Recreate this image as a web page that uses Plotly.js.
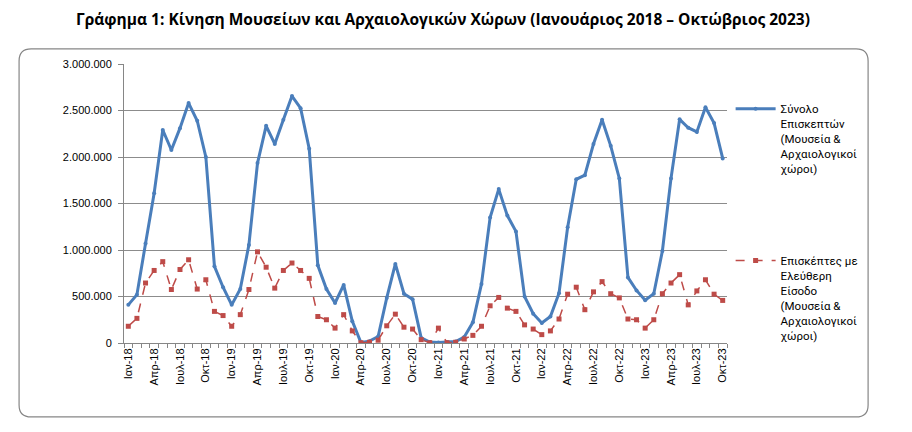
<!DOCTYPE html>
<html>
<head>
<meta charset="utf-8">
<script src="https://cdn.plot.ly/plotly-3.0.1.min.js"></script>
<style>
  body { margin: 0; background: #fff; }
  #chart { width: 912px; height: 432px; }
</style>
</head>
<body>
<div id="chart"></div>
<script>
var monthNames = ['Ιαν', 'Φεβ', 'Μαρ', 'Απρ', 'Μαϊ', 'Ιουν', 'Ιουλ', 'Αυγ', 'Σεπ', 'Οκτ', 'Νοε', 'Δεκ'];
var years = ['18', '19', '20', '21', '22', '23'];

// monthly, Jan 2018 - Oct 2023
var totalVisitors = [
  410000, 520000, 1070000, 1610000, 2290000, 2075000, 2310000, 2580000, 2390000, 2000000, 825000, 600000,
  410000, 580000, 1055000, 1935000, 2335000, 2140000, 2400000, 2655000, 2525000, 2090000, 835000, 580000,
  430000, 625000, 235000, 5000, 20000, 70000, 485000, 850000, 530000, 470000, 55000, 10000,
  5000, 10000, 15000, 65000, 222000, 635000, 1350000, 1655000, 1370000, 1200000, 500000, 315000,
  215000, 285000, 535000, 1245000, 1760000, 1805000, 2140000, 2400000, 2120000, 1770000, 705000, 565000,
  460000, 530000, 990000, 1770000, 2405000, 2315000, 2270000, 2535000, 2365000, 1985000
];
var freeVisitors = [
  180000, 265000, 645000, 780000, 875000, 575000, 790000, 895000, 580000, 680000, 340000, 295000,
  180000, 305000, 575000, 980000, 815000, 590000, 780000, 860000, 780000, 695000, 285000, 250000,
  160000, 305000, 130000, 3000, 8000, 30000, 185000, 310000, 170000, 150000, 36000, 2000,
  160000, 3000, 8000, 43000, 82000, 180000, 400000, 490000, 375000, 340000, 195000, 150000,
  90000, 130000, 258000, 525000, 600000, 358000, 550000, 660000, 530000, 485000, 258000, 250000,
  160000, 250000, 530000, 645000, 735000, 410000, 560000, 680000, 525000, 458000
];

var totalName = 'Σύνολο<br>Επισκεπτών<br>(Μουσεία &<br>Αρχαιολογικοί<br>χώροι)';
var freeName = 'Επισκέπτες με<br>Ελεύθερη<br>Είσοδο<br>(Μουσεία &<br>Αρχαιολογικοί<br>χώροι)';

var months = [];
var tickText = [];
for (var i = 0; i < totalVisitors.length; i++) {
  var label = monthNames[i % 12] + '-' + years[Math.floor(i / 12)];
  months.push(label);
  tickText.push(i % 3 === 0 ? label : '');
}

var data = [
  {
    name: totalName,
    type: 'scatter',
    mode: 'lines+markers',
    x: months,
    y: totalVisitors,
    line: {color: '#4A7EBB', width: 3},
    marker: {color: '#4A7EBB', size: 4, symbol: 'circle'},
    legendgroup: 'a',
    hoverinfo: 'none'
  },
  {
    name: freeName,
    type: 'scatter',
    mode: 'lines+markers',
    x: months,
    y: freeVisitors,
    line: {color: '#BE4B48', width: 1.5, dash: 'dash'},
    marker: {color: '#BE4B48', size: 5, symbol: 'square'},
    legendgroup: 'b',
    hoverinfo: 'none'
  }
];

var layout = {
  width: 912,
  height: 432,
  margin: {l: 124, r: 185, t: 64, b: 89},
  paper_bgcolor: '#fff',
  plot_bgcolor: '#fff',
  separators: ',.',
  font: {family: 'Liberation Sans, Arial, sans-serif', size: 11, color: '#000'},
  title: {
    text: '<b>Γράφημα 1: Κίνηση Μουσείων και Αρχαιολογικών Χώρων (Ιανουάριος 2018 – Οκτώβριος 2023)</b>',
    font: {family: 'Open Sans, sans-serif', size: 15.5, color: '#000'},
    x: 0.529, xref: 'paper', xanchor: 'center',
    y: 0.955, yanchor: 'middle'
  },
  xaxis: {
    type: 'category',
    range: [-0.5, months.length - 0.5],
    tickvals: months,
    ticktext: tickText,
    tickson: 'boundaries',
    tickangle: -90,
    ticks: 'outside',
    ticklen: 4,
    tickcolor: '#868686',
    showline: true,
    linecolor: '#868686',
    showgrid: false,
    tickfont: {size: 11}
  },
  yaxis: {
    range: [0, 3000000],
    dtick: 500000,
    tickformat: ',d',
    ticks: 'outside',
    ticklen: 5,
    tickcolor: '#868686',
    ticklabelstandoff: 4,
    showline: true,
    linecolor: '#868686',
    gridcolor: '#8C8C8C',
    gridwidth: 1,
    zeroline: false,
    tickfont: {size: 11}
  },
  showlegend: true,
  legend: {
    x: 1.006, xanchor: 'left',
    y: 0.89, yanchor: 'top',
    valign: 'top',
    itemwidth: 40,
    tracegroupgap: 74,
    font: {family: 'Roboto, sans-serif', size: 11.5, color: '#000'},
    bgcolor: 'rgba(0,0,0,0)'
  },
  shapes: [
    {
      type: 'path', xref: 'paper', yref: 'paper',
      path: 'M -0.154,1.054 L 1.214,1.054 Q 1.234,1.054 1.234,1.011 L 1.234,-0.222 Q 1.234,-0.265 1.214,-0.265 L -0.154,-0.265 Q -0.174,-0.265 -0.174,-0.222 L -0.174,1.011 Q -0.174,1.054 -0.154,1.054 Z',
      line: {color: '#868686', width: 1.2},
      layer: 'below'
    }
  ]
};

var config = {displayModeBar: false, staticPlot: true};
Plotly.newPlot('chart', data, layout, config);
</script>
</body>
</html>
